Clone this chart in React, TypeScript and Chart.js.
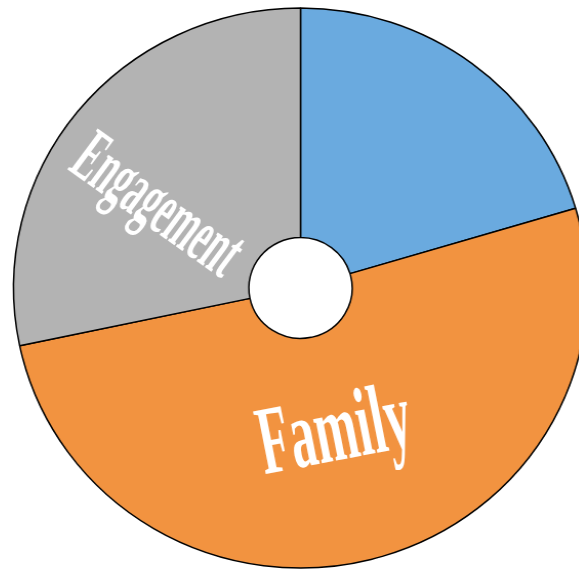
import React, { useEffect, useRef } from "react";
import { Chart, registerables } from "chart.js";

Chart.register(...registerables);

// ---- data ----
const categories: string[] = ["", "Family", "Engagement"];
const values: number[] = [20.4, 51.3, 28.3];
const sliceColors: string[] = ["#6AAADF", "#F29340", "#B3B3B3"];

// per-slice label styling (index-aligned with categories)
const labelStyles = [
  null,
  { size: 50, scaleX: 1, scaleY: 1.95, rotateDeg: -11, angleShiftDeg: 1.2, radiusFrac: 0.407 },
  { size: 35, scaleX: 1, scaleY: 2.2, rotateDeg: 36, angleShiftDeg: -7.4, radiusFrac: 0.484 },
];

const sliceLabelPlugin = {
  id: "sliceLabels",
  afterDatasetsDraw(chart: any) {
    const ctx: CanvasRenderingContext2D = chart.ctx;
    const meta = chart.getDatasetMeta(0);
    meta.data.forEach((arc: any, i: number) => {
      const text = categories[i];
      const st = labelStyles[i];
      if (!text || !st) return;
      const p = arc.getProps(["x", "y", "startAngle", "endAngle", "innerRadius", "outerRadius"], true);
      const a = (p.startAngle + p.endAngle) / 2 + (st.angleShiftDeg * Math.PI) / 180;
      const r = p.innerRadius + st.radiusFrac * (p.outerRadius - p.innerRadius);
      const x = p.x + Math.cos(a) * r;
      const y = p.y + Math.sin(a) * r;
      ctx.save();
      ctx.translate(x, y);
      ctx.rotate((st.rotateDeg * Math.PI) / 180);
      ctx.scale(st.scaleX, st.scaleY);
      ctx.font = `bold ${st.size}px "Liberation Serif", "Times New Roman", serif`;
      ctx.fillStyle = "#FFFFFF";
      ctx.textAlign = "center";
      ctx.textBaseline = "alphabetic";
      ctx.fillText(text, 0, 0.331 * st.size);
      ctx.restore();
    });
  },
};

export default function App() {
  const canvasRef = useRef<HTMLCanvasElement | null>(null);

  useEffect(() => {
    const canvas = canvasRef.current;
    if (!canvas) return;
    const chart = new Chart(canvas, {
      type: "doughnut",
      data: {
        labels: categories,
        datasets: [
          {
            data: values,
            backgroundColor: sliceColors,
            borderColor: "#000000",
            borderWidth: 1.5,
            hoverOffset: 0,
            offset: 0,
          },
        ],
      },
      options: {
        responsive: false,
        animation: false,
        radius: 280,
        cutout: "18%",
        layout: { padding: { left: 22, top: 5, right: 0, bottom: 0 } },
        plugins: {
          legend: { display: false },
          tooltip: { enabled: false },
        },
        events: [],
      } as any,
      plugins: [sliceLabelPlugin],
    });
    return () => chart.destroy();
  }, []);

  return (
    <div
      style={{
        position: "fixed",
        left: 0,
        top: 0,
        width: 579,
        height: 571,
        overflow: "hidden",
        background: "#FFFFFF",
      }}
    >
      <canvas
        ref={canvasRef}
        width={579}
        height={571}
        style={{
          display: "block",
          transform: "scaleX(1.025)",
          transformOrigin: "300.5px 288px",
        }}
      />
    </div>
  );
}
